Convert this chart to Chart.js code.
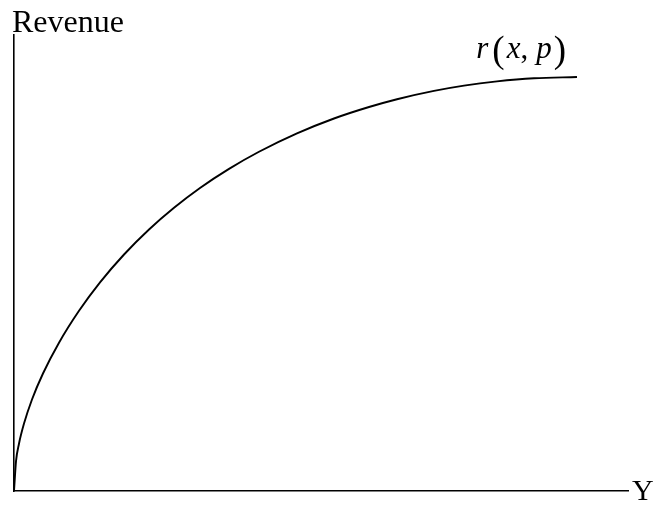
<!DOCTYPE html>
<html>
<head>
<meta charset="utf-8">
<style>
  html, body { margin: 0; padding: 0; background: #fff; }
  #wrap { width: 660px; height: 521px; position: relative; }
</style>
<script src="https://cdn.jsdelivr.net/npm/chart.js@4"></script>
</head>
<body>
<div id="wrap"><canvas id="chart"></canvas></div>
<script>
// Output level (horizontal axis, arbitrary units 0-100)
const outputLevels = [0, 0.33, 0.81, 1.63, 2.93, 4.72, 7.33, 10.59, 14.01, 17.92, 21.99, 26.06,
  30.29, 35.02, 39.90, 46.09, 52.12, 57.82, 62.38, 68.40, 73.29, 78.66, 84.69, 91.69];
// Revenue r(x, p) at each output level (arbitrary units 0-100)
const revenue = [0, 6.54, 10.37, 14.78, 20.07, 25.77, 32.52, 39.52, 45.75, 51.86, 57.35, 62.11,
  66.45, 70.64, 74.39, 78.42, 81.69, 84.21, 85.92, 87.74, 88.90, 89.82, 90.50, 90.79];

const xAxisLabel = 'Y';
const yAxisLabel = 'Revenue';

const points = outputLevels.map((x, i) => ({ x: x, y: revenue[i] }));

// Draws the axis names and the italic curve label "r(x, p)"
const labelPlugin = {
  id: 'curveLabels',
  afterDraw(chart) {
    const { ctx, chartArea } = chart;
    const sx = chart.scales.x, sy = chart.scales.y;
    ctx.save();
    ctx.fillStyle = '#000';
    ctx.textAlign = 'left';
    ctx.textBaseline = 'alphabetic';
    ctx.font = '32px "Liberation Serif"';
    ctx.fillText(yAxisLabel, chartArea.left - 2, chartArea.top - 3);
    ctx.font = '30px "Liberation Serif"';
    ctx.fillText(xAxisLabel, chartArea.right + 4, chartArea.bottom + 9);

    // label placed above the end of the curve
    const n = outputLevels.length - 1;
    const ex = sx.getPixelForValue(outputLevels[n]);
    const ey = sy.getPixelForValue(revenue[n]);
    const runs = [
      { t: 'r', f: 'italic 31px "Liberation Serif"', gap: 4 },
      { t: '(', f: '37px "Liberation Serif"', gap: 2 },
      { t: 'x', f: 'italic 31px "Liberation Serif"', gap: 0 },
      { t: ',', f: '31px "Liberation Serif"', gap: 8 },
      { t: 'p', f: 'italic 31px "Liberation Serif"', gap: 2 },
      { t: ')', f: '37px "Liberation Serif"', gap: 0 }
    ];
    let total = 0;
    runs.forEach(r => { ctx.font = r.f; total += ctx.measureText(r.t).width + r.gap; });
    let cx = ex - 11 - total;
    const base = ey - 19;
    runs.forEach(r => {
      ctx.font = r.f;
      const isParen = r.t === '(' || r.t === ')';
      ctx.fillText(r.t, cx, isParen ? base + 4 : base);
      cx += ctx.measureText(r.t).width + r.gap;
    });
    ctx.restore();
  }
};

new Chart(document.getElementById('chart'), {
  type: 'line',
  data: {
    datasets: [{
      data: points,
      borderColor: '#000',
      borderWidth: 1.9,
      pointRadius: 0,
      fill: false,
      cubicInterpolationMode: 'monotone'
    }]
  },
  options: {
    responsive: true,
    maintainAspectRatio: false,
    animation: false,
    layout: { padding: { left: 14, top: 35, right: 32, bottom: 30 } },
    plugins: { legend: { display: false }, tooltip: { enabled: false } },
    scales: {
      x: {
        type: 'linear', min: 0, max: 100,
        grid: { display: false, drawTicks: false },
        ticks: { display: false },
        border: { display: true, color: '#000', width: 1.6 }
      },
      y: {
        type: 'linear', min: 0, max: 100,
        grid: { display: false, drawTicks: false },
        ticks: { display: false },
        border: { display: true, color: '#000', width: 1.6 }
      }
    }
  },
  plugins: [labelPlugin]
});
</script>
</body>
</html>
